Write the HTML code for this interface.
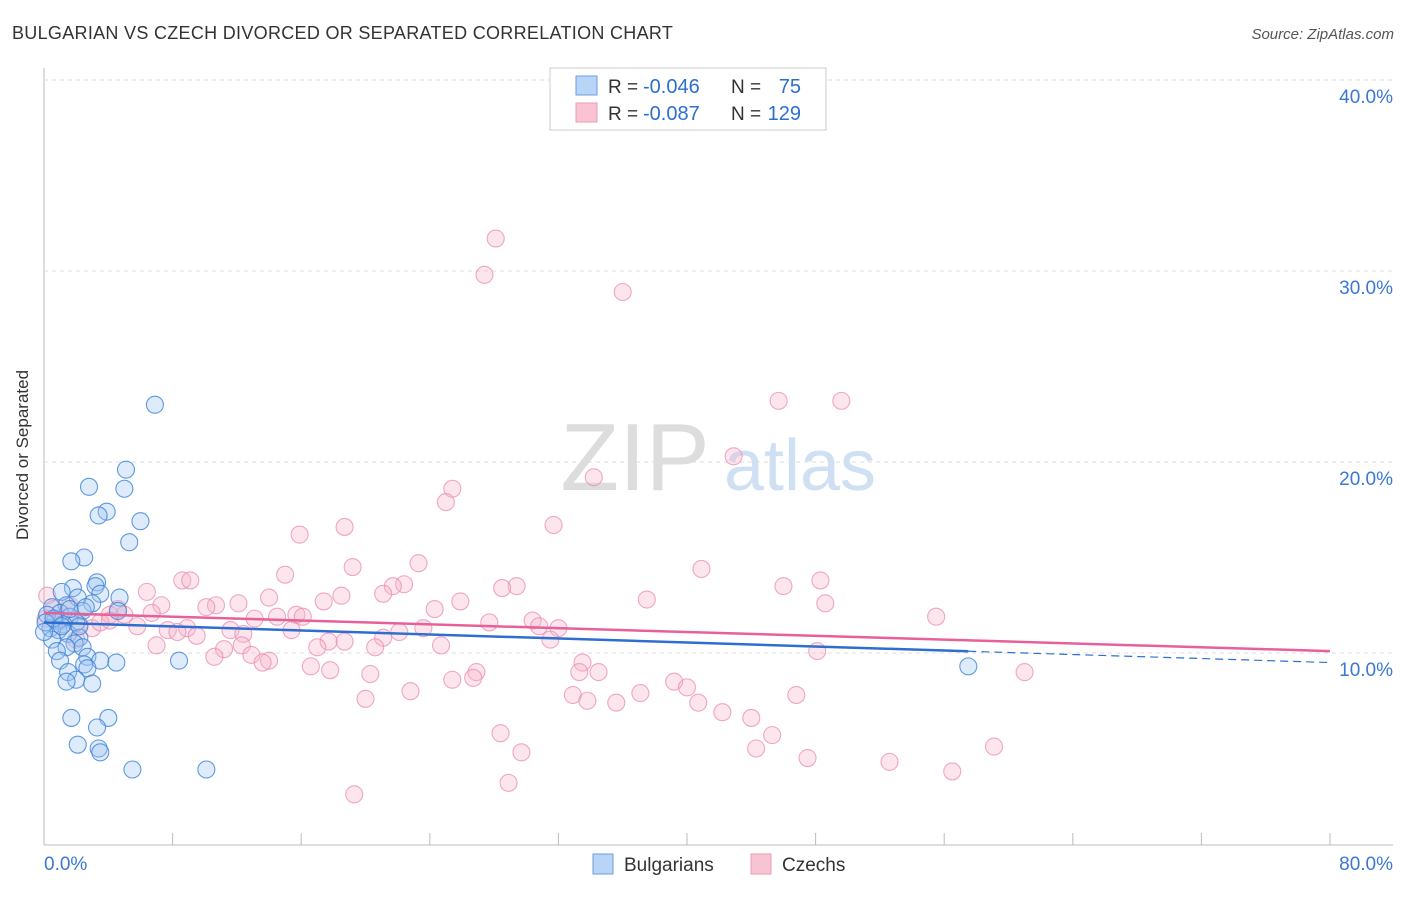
<!DOCTYPE html>
<html><head><meta charset="utf-8"><style>
body{margin:0;background:#fff;font-family:"Liberation Sans",sans-serif}
svg text{font-family:"Liberation Sans",sans-serif}
</style></head><body>
<svg id="c" width="1406" height="892">
<text x="12" y="39" font-size="18" fill="#333" letter-spacing="0.3">BULGARIAN VS CZECH DIVORCED OR SEPARATED CORRELATION CHART</text>
<text x="1394" y="39" font-size="15" fill="#555" font-style="italic" text-anchor="end">Source: ZipAtlas.com</text>
<text x="28" y="455" font-size="17" fill="#333" text-anchor="middle" transform="rotate(-90 28 455)">Divorced or Separated</text>
<g><text x="635" y="490" font-size="96" fill="#ddd" font-family="Liberation Serif" text-anchor="middle">ZIP</text><text x="800" y="490" font-size="72" fill="#cfe0f4" text-anchor="middle">atlas</text></g>
<g id="grid"></g><g id="pts"></g><g id="lines"></g>
<g>
<rect x="550" y="68" width="276" height="62" fill="#fff" stroke="#ccc"/>
<rect x="576" y="76" width="21" height="19" fill="#b8d4f6" stroke="#6a9ee0"/>
<rect x="576" y="103" width="21" height="19" fill="#f8c4d4" stroke="#ec9ab6"/>
<text x="608" y="93" font-size="19" fill="#333">R =</text>
<text x="643" y="93" font-size="20" fill="#2d6fd0">-0.046</text>
<text x="731" y="93" font-size="19" fill="#333">N =</text>
<text x="801" y="93" font-size="20" fill="#2d6fd0" text-anchor="end">75</text>
<text x="608" y="120" font-size="19" fill="#333">R =</text>
<text x="643" y="120" font-size="20" fill="#2d6fd0">-0.087</text>
<text x="731" y="120" font-size="19" fill="#333">N =</text>
<text x="801" y="120" font-size="20" fill="#2d6fd0" text-anchor="end">129</text>
</g>
<g>
<rect x="593" y="854" width="20" height="20" fill="#b8d4f6" stroke="#6a9ee0"/>
<text x="624" y="871" font-size="19" fill="#333">Bulgarians</text>
<rect x="751" y="854" width="20" height="20" fill="#f8c4d4" stroke="#ec9ab6"/>
<text x="782" y="871" font-size="19" fill="#333">Czechs</text>
</g>
</svg>
<script>
const xTicks=[0,80];
const yTicks=[10,20,30,40];
const blueX=[6.9,5.1,5.0,2.8,3.9,3.4,6.0,5.3,2.5,1.7,3.3,3.2,1.8,1.1,3.5,4.7,2.1,3.0,1.4,0.5,2.4,4.6,1.0,0.2,1.6,0.7,2.0,1.2,0.4,0.9,1.5,2.2,0.5,1.9,1.4,2.4,0.8,2.7,3.5,4.5,1.0,2.5,8.4,1.5,2.7,2.0,1.4,3.0,1.7,4.0,3.3,2.1,3.4,3.5,5.5,10.1,57.5,0.1,0.6,1.1,1.6,2.6,0,2.2];
const blueY=[23.0,19.6,18.6,18.7,17.4,17.2,16.9,15.8,15.0,14.8,13.7,13.5,13.4,13.2,13.1,12.9,12.9,12.6,12.5,12.4,12.2,12.2,12.1,12.0,11.9,11.7,11.6,11.5,11.3,11.2,11.0,10.8,10.7,10.5,10.3,10.3,10.1,9.8,9.6,9.5,9.6,9.4,9.6,9.0,9.2,8.6,8.5,8.4,6.6,6.6,6.1,5.2,5.0,4.8,3.9,3.9,9.3,11.6,11.8,11.4,12.3,12.4,11.1,11.4];
const pinkX=[28.1,27.4,36.0,45.7,49.6,42.9,34.2,25.4,25.0,18.7,31.7,15.9,23.3,19.2,40.9,15.0,8.6,9.1,48.3,22.4,21.7,29.4,28.5,46.0,6.4,21.1,18.5,14.0,37.5,25.9,17.4,12.1,10.7,7.3,10.1,48.6,24.3,4.6,6.7,4.1,5.0,15.7,14.5,16.1,13.1,55.5,30.4,27.7,30.8,32.0,5.8,23.6,8.9,7.7,11.6,8.3,15.4,22.1,12.4,9.5,18.7,21.1,17.7,31.5,7.0,24.7,12.3,17.0,20.6,11.2,10.6,12.9,48.1,14.0,13.6,16.6,17.8,33.5,20.3,26.9,34.5,33.3,61.0,25.4,26.7,39.2,40.0,22.8,32.9,37.1,46.8,33.8,20.0,35.6,40.7,42.2,44.0,28.4,45.3,44.3,29.7,59.1,47.5,52.6,56.5,28.9,19.3,0.2,0.6,1.1,1.6,2.2,3.0,3.5,2.0,0.1,4.1];
const pinkY=[31.7,29.8,28.9,23.2,23.2,20.3,19.2,18.6,17.9,16.6,16.7,16.2,14.7,14.5,14.4,14.1,13.8,13.8,13.8,13.6,13.5,13.5,13.4,13.5,13.2,13.1,13.0,12.9,12.8,12.7,12.7,12.6,12.5,12.5,12.4,12.6,12.3,12.3,12.1,12.0,12.0,12.0,11.9,11.9,11.8,11.9,11.7,11.6,11.4,11.3,11.4,11.3,11.3,11.2,11.2,11.1,11.2,11.1,11.0,10.9,10.6,10.8,10.6,10.7,10.4,10.4,10.4,10.3,10.3,10.2,9.8,9.9,10.1,9.6,9.5,9.3,9.1,9.5,8.9,9.0,9.0,9.0,9.0,8.6,8.7,8.5,8.2,8.0,7.8,7.9,7.8,7.5,7.6,7.4,7.4,6.9,6.6,5.8,5.7,5.0,4.8,5.1,4.5,4.3,3.8,3.2,2.6,13.0,12.3,11.7,12.5,11.5,11.3,11.6,10.7,11.8,11.7];
const blueTrend=[11.6,9.5];
const pinkTrend=[12.1,10.1];
const NS='http://www.w3.org/2000/svg';
const X=v=>44+v/80*1286, Y=v=>844-v*19.1;
function mk(t,a,p){const e=document.createElementNS(NS,t);for(const k in a)e.setAttribute(k,a[k]);p.appendChild(e);return e;}
const grid=document.getElementById('grid');
const ax=mk('line',{x1:44,y1:68,x2:44,y2:845,stroke:'#bbb'},grid);


const bx=mk('line',{x1:44,y1:845,x2:1393,y2:845,stroke:'#bbb'},grid);


for(let i=0;i<=10;i++){const t=mk('line',{x1:X(i*8),y1:833,x2:X(i*8),y2:845,stroke:'#bbb'},grid);

}
yTicks.forEach(v=>{const g=mk('line',{x1:44,y1:Y(v),x2:1393,y2:Y(v),stroke:'#ddd','stroke-dasharray':'4,4'},grid);


const t=mk('text',{x:1393,y:Y(v)+23,'font-size':19,fill:'#3a78d4','text-anchor':'end'},grid);t.textContent=v.toFixed(1)+'%';

});
xTicks.forEach((v,i)=>{const t=mk('text',{x:i?1393:44,y:870,'font-size':19,fill:'#3a78d4','text-anchor':i?'end':'start'},grid);t.textContent=v.toFixed(1)+'%';

});
const pts=document.getElementById('pts');
pinkX.forEach((x,i)=>{const c=mk('circle',{cx:X(x),cy:Y(pinkY[i]),r:8.5,fill:'rgba(246,180,204,0.35)',stroke:'rgba(234,140,176,0.75)','stroke-width':1.1},pts);

});
blueX.forEach((x,i)=>{const c=mk('circle',{cx:X(x),cy:Y(blueY[i]),r:8.5,fill:'rgba(160,198,242,0.35)',stroke:'rgba(60,130,215,0.8)','stroke-width':1.1},pts);

});
const L=document.getElementById('lines');
const bmax=Math.max(...blueX), by=x=>blueTrend[0]+(blueTrend[1]-blueTrend[0])*x/80;
const l1=mk('line',{x1:X(0),y1:Y(by(0)),x2:X(bmax),y2:Y(by(bmax)),stroke:'#2d6fd0','stroke-width':2.5},L);


const l2=mk('line',{x1:X(bmax),y1:Y(by(bmax)),x2:X(80),y2:Y(by(80)),stroke:'#2d6fd0','stroke-width':1.2,'stroke-dasharray':'8,5'},L);


const l3=mk('line',{x1:X(0),y1:Y(pinkTrend[0]),x2:X(80),y2:Y(pinkTrend[1]),stroke:'#e8609a','stroke-width':2.5},L);


</script>
</body></html>
